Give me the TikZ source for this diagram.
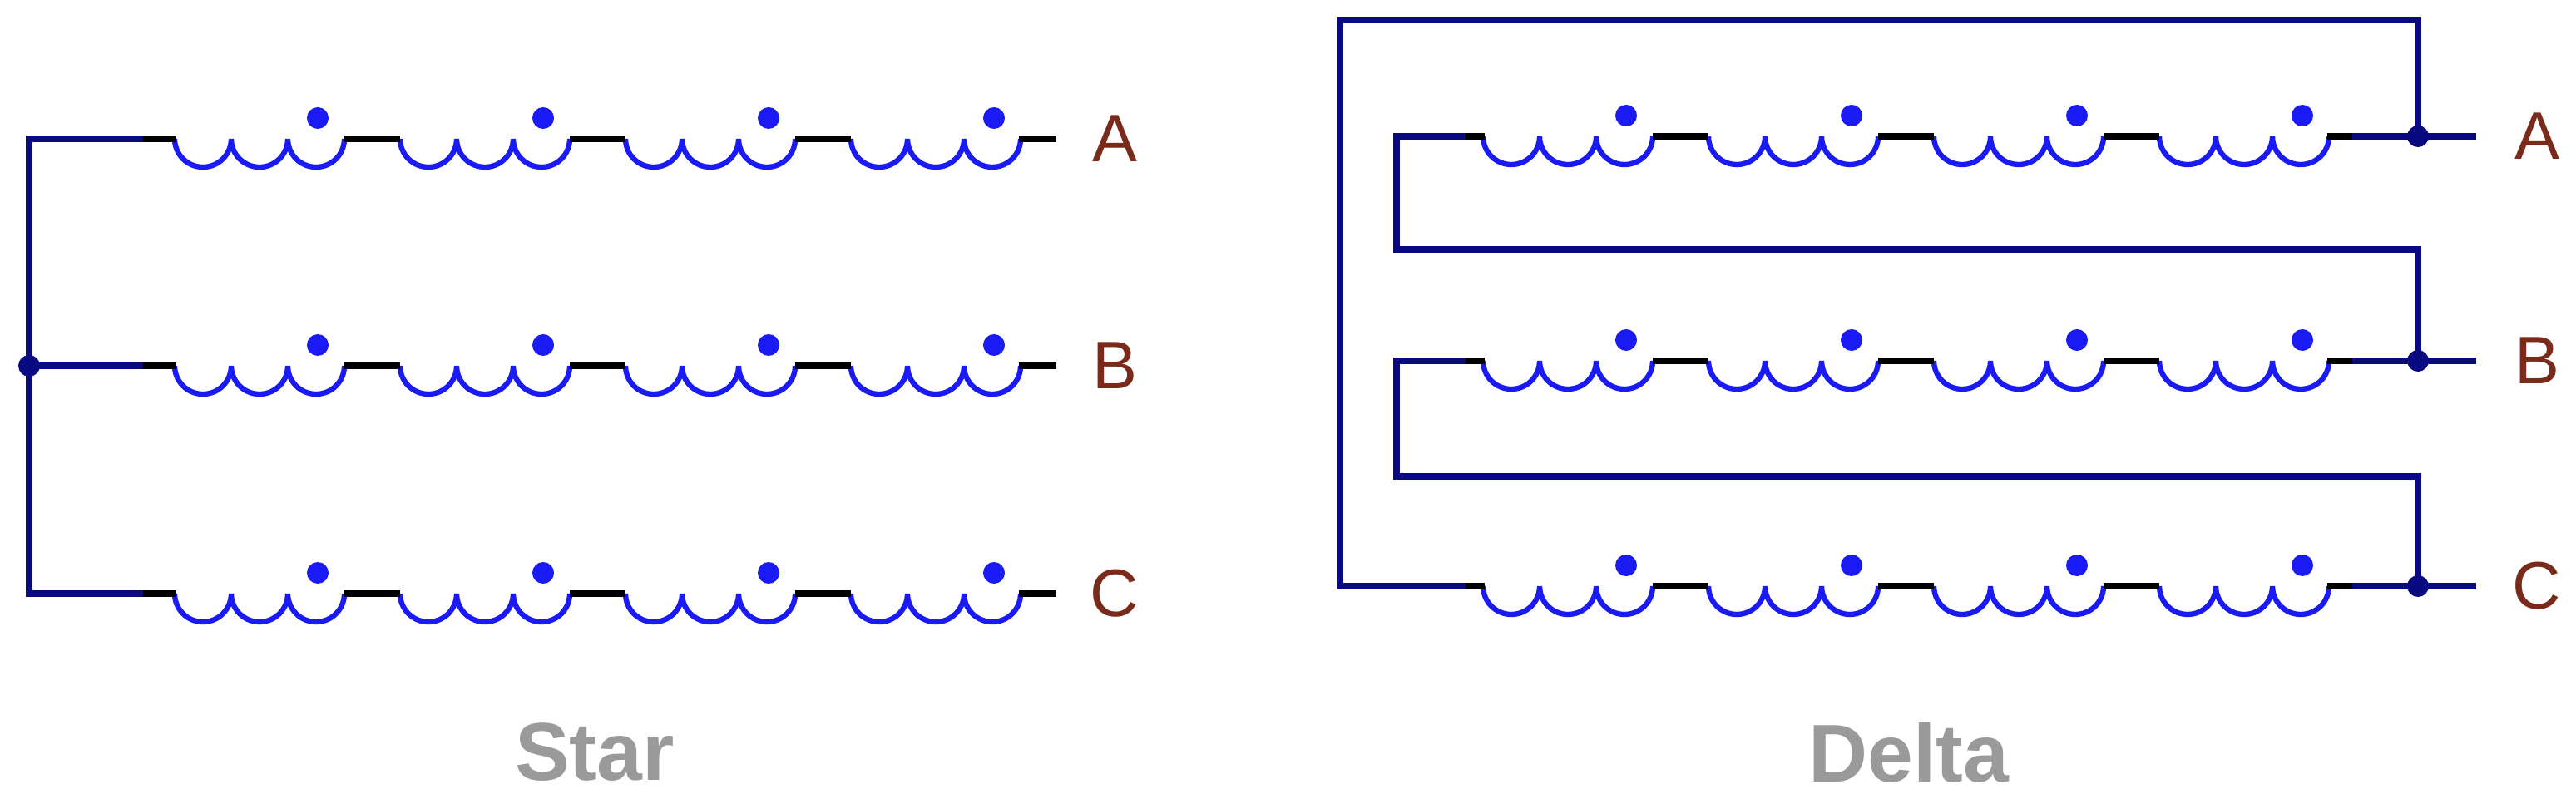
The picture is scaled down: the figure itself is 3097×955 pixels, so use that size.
\documentclass[tikz,border=0pt]{standalone}
\usepackage{fontspec}
\setmainfont{Liberation Sans}
\definecolor{navy}{HTML}{0A0A80}
\definecolor{coilblue}{HTML}{1A1AF5}
\definecolor{lbl}{HTML}{7A2A1A}
\definecolor{ttl}{HTML}{9A9A9A}
\tikzset{
  wire/.style={navy,line width=2.3pt},
  lead/.style={black,line width=2.3pt},
  coilline/.style={coilblue,line width=1.8pt},
  polar/.style={fill=coilblue},
  junction/.style={circle,fill=navy,inner sep=0pt,minimum size=0.26cm},
  phase/.style={text=lbl,font=\fontsize{23}{28}\selectfont},
  title/.style={text=ttl,font=\bfseries\fontsize{28}{33}\selectfont},
}
\newcommand{\windingrow}[2]{%
  \foreach \k in {0,1,2,3}{%
    \pgfmathsetmacro{\cs}{#1+271*\k}
    \draw[coilline] (\cs,#2) arc(180:0:34) arc(180:0:34) arc(180:0:34);
    \fill[polar] (\cs+172,#2-25) circle (13);
  }
  \foreach \k in {0,1,2}{%
    \pgfmathsetmacro{\ls}{#1+204+271*\k}
    \draw[lead] (\ls,#2) -- (\ls+67,#2);
  }
}
\begin{document}
\begin{tikzpicture}[x=0.01cm,y=-0.01cm]
\useasboundingbox (0,0) rectangle (3097,955);
% ---------- STAR ----------
\foreach \y in {167,440,714}{\windingrow{210}{\y}
  \draw[lead] (170,\y) -- (212,\y);
  \draw[lead] (1225,\y) -- (1270,\y);
}
\node[junction] (sn) at (35,440) {};
\draw[wire] (172,167) -| (sn.center) |- (172,714);
\draw[wire] (sn.center) -- (172,440);
\node[phase] (la) at (1340,167) {A};
\node[phase] (lb) at (1340,440) {B};
\node[phase] (lc) at (1340,714) {C};
\node[title] (ts) at (715,905) {Star};
% ---------- DELTA ----------
\foreach \y in {164,434,705}{\windingrow{1783}{\y}
  \draw[lead] (2798,\y) -- (2830,\y);
  \draw[lead] (1760,\y) -- (1785,\y);
}
\node[junction] (ja) at (2907,164) {};
\node[junction] (jb) at (2907,434) {};
\node[junction] (jc) at (2907,705) {};
\foreach \j in {ja,jb,jc}{\draw[wire] (2828,0|-\j.center) -- (2977,0|-\j.center);}
\draw[wire] (ja.center) -- (2907,24) -- (1611,24) -- (1611,705) -- (1762,705);
\draw[wire] (1762,164) -- (1679,164) -- (1679,300) -- (2907,300) -- (jb.center);
\draw[wire] (1762,434) -- (1679,434) -- (1679,573) -- (2907,573) -- (jc.center);
\node[phase] (da) at (3050,164) {A};
\node[phase] (db) at (3050,434) {B};
\node[phase] (dc) at (3050,705) {C};
\node[title] (td) at (2295,905) {Delta};
\end{tikzpicture}
\end{document}
